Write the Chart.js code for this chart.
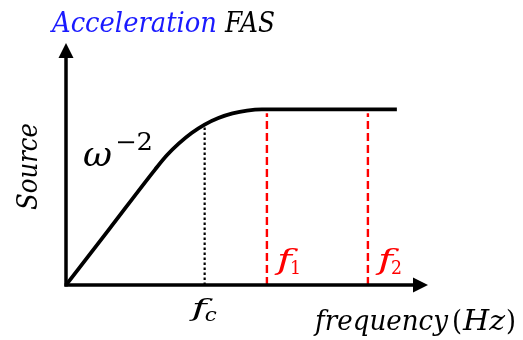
<!DOCTYPE html>
<html>
<head>
<meta charset="utf-8">
<script src="https://cdn.jsdelivr.net/npm/chart.js@4/dist/chart.umd.min.js"></script>
<style>
  html, body { margin: 0; padding: 0; background: #fff; }
  canvas { display: block; }
</style>
</head>
<body>
<canvas id="c" width="523" height="340"></canvas>
<script>
// Schematic source spectrum in normalized units:
// frequency on x, acceleration Fourier amplitude on y.
const freq      = [0, 1.2, 2.46, 2.78, 3.12, 3.47, 3.83, 4.21, 4.60, 5.00, 5.41, 9.14];
const amplitude = [0, 2.32, 4.77, 5.35, 5.85, 6.28, 6.63, 6.90, 7.09, 7.21, 7.26, 7.26];

// Corner frequency and the two band limits
const cornerFreq = [3.83];
const cornerTop  = [6.63];
const bandFreqs  = [5.55, 8.34];
const bandTop    = [7.10, 7.10];

const axisRange = [0, 10];

const BLUE = '#1a1aff';
const RED = '#ff0000';
const SERIF = '"DejaVu Serif", "Liberation Serif", serif';

function fitText(ctx, txt, x, y, font, color, width) {
  ctx.save();
  ctx.font = font;
  ctx.fillStyle = color;
  ctx.textBaseline = 'alphabetic';
  ctx.textAlign = 'left';
  const m = ctx.measureText(txt).width;
  ctx.translate(x, y);
  ctx.scale(width / m, 1);
  ctx.fillText(txt, 0, 0);
  ctx.restore();
}

const decor = {
  id: 'decor',
  afterDatasetsDraw(chart) {
    const { ctx, chartArea: a, scales: { x, y } } = chart;
    const x0 = x.getPixelForValue(0), y0 = y.getPixelForValue(0);
    const head = 15, half = 7.5;

    ctx.save();
    ctx.strokeStyle = '#000';
    ctx.fillStyle = '#000';
    ctx.lineWidth = 3.5;
    ctx.lineCap = 'butt';
    // vertical axis with arrow
    ctx.beginPath();
    ctx.moveTo(x0, y0 + 1.5);
    ctx.lineTo(x0, a.top + head);
    ctx.stroke();
    ctx.beginPath();
    ctx.moveTo(x0 - half, a.top + head);
    ctx.lineTo(x0 + half, a.top + head);
    ctx.lineTo(x0, a.top);
    ctx.closePath();
    ctx.fill();
    // horizontal axis with arrow
    ctx.beginPath();
    ctx.moveTo(x0 - 1.5, y0);
    ctx.lineTo(a.right - head, y0);
    ctx.stroke();
    ctx.beginPath();
    ctx.moveTo(a.right - head, y0 - half);
    ctx.lineTo(a.right - head, y0 + half);
    ctx.lineTo(a.right, y0);
    ctx.closePath();
    ctx.fill();
    ctx.restore();

    // title
    fitText(ctx, 'Acceleration', 52, 32, 'italic 27px ' + SERIF, BLUE, 165);
    fitText(ctx, 'FAS', 225, 32, 'italic 27px ' + SERIF, '#000', 50);

    // vertical axis label
    ctx.save();
    ctx.translate(37, 210);
    ctx.rotate(-Math.PI / 2);
    fitText(ctx, 'Source', 0, 0, 'italic 27px ' + SERIF, '#000', 87);
    ctx.restore();

    // slope label
    fitText(ctx, 'ω', 83, 166, 'italic 34px ' + SERIF, '#000', 29);
    fitText(ctx, '−2', 115, 150, '24px ' + SERIF, '#000', 38);

    // corner frequency label
    const fcx = x.getPixelForValue(cornerFreq[0]);
    fitText(ctx, 'f', fcx - 13, 316, 'italic 25px ' + SERIF, '#000', 15);
    fitText(ctx, 'c', fcx, 321, 'italic 19px ' + SERIF, '#000', 12);

    // band limit labels
    ['1', '2'].forEach((s, i) => {
      const px = x.getPixelForValue(bandFreqs[i]);
      fitText(ctx, 'f', px + 10, 269, 'italic 27px ' + SERIF, RED, 15);
      fitText(ctx, s, px + 23, 274, '18px ' + SERIF, RED, 11);
    });

    // horizontal axis label
    fitText(ctx, 'frequency', 315, 330, 'italic 27px ' + SERIF, '#000', 133);
    fitText(ctx, '(', 452, 330, '27px ' + SERIF, '#000', 10);
    fitText(ctx, 'Hz', 463, 330, 'italic 27px ' + SERIF, '#000', 42);
    fitText(ctx, ')', 506, 330, '27px ' + SERIF, '#000', 10);
  }
};

const vline = (fx, top, color, dash, width) => ({
  data: [{ x: fx, y: 0 }, { x: fx, y: top }],
  borderColor: color,
  borderWidth: width,
  borderDash: dash,
  pointRadius: 0,
  fill: false,
  tension: 0
});

new Chart(document.getElementById('c'), {
  type: 'scatter',
  data: {
    datasets: [
      {
        data: freq.map((f, i) => ({ x: f, y: amplitude[i] })),
        borderColor: '#000',
        borderWidth: 3.8,
        pointRadius: 0,
        cubicInterpolationMode: 'monotone',
        fill: false
      },
      vline(cornerFreq[0], cornerTop[0], '#000', [2.5, 2.5], 2.2),
      vline(bandFreqs[0], bandTop[0], RED, [8, 4], 2.4),
      vline(bandFreqs[1], bandTop[1], RED, [8, 4], 2.4)
    ].map(d => Object.assign({ showLine: true }, d))
  },
  options: {
    responsive: false,
    animation: false,
    events: [],
    layout: { padding: { left: 66, top: 43, right: 95, bottom: 55 } },
    plugins: { legend: { display: false }, tooltip: { enabled: false } },
    scales: {
      x: { type: 'linear', display: false, min: axisRange[0], max: axisRange[1] },
      y: { type: 'linear', display: false, min: axisRange[0], max: axisRange[1] }
    }
  },
  plugins: [decor]
});
</script>
</body>
</html>
